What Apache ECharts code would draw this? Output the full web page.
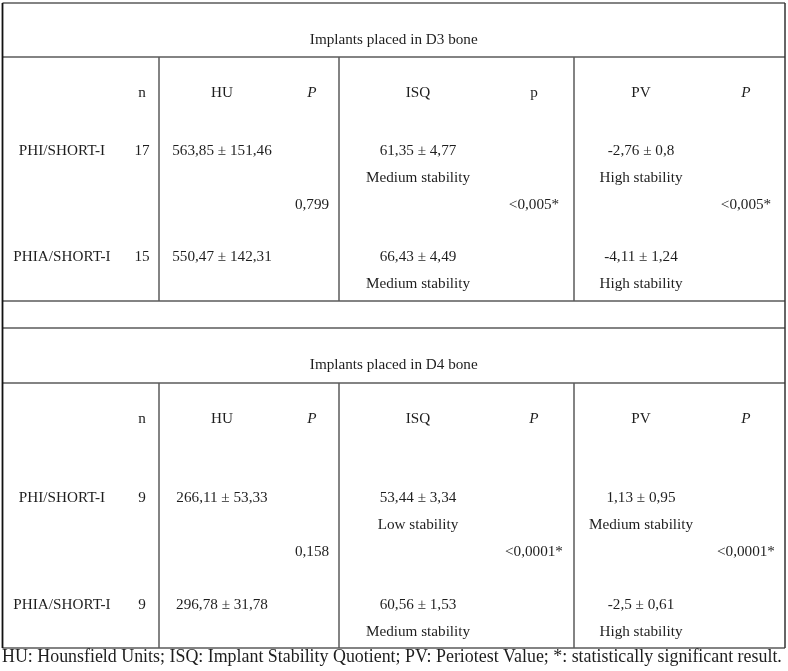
<!DOCTYPE html>
<html>
<head>
<meta charset="utf-8">
<script src="https://cdn.jsdelivr.net/npm/echarts@6/dist/echarts.min.js"></script>
<style>html,body{margin:0;padding:0;background:#fff;}#c{width:788px;height:671px;}</style>
</head>
<body>
<div id="c"></div>
<script>
// ---- data ----
const sectionTitles = ['Implants placed in D3 bone', 'Implants placed in D4 bone'];
const headerLabels = [
  ['n', 'HU', 'P', 'ISQ', 'p', 'PV', 'P'],
  ['n', 'HU', 'P', 'ISQ', 'P', 'PV', 'P']
];
const headerItalic = [
  [false, false, true, false, false, false, true],
  [false, false, true, false, true, false, true]
];
const groups = ['PHI/SHORT-I', 'PHIA/SHORT-I'];
const nValues = [[17, 15], [9, 9]];
const huValues = [['563,85 ± 151,46', '550,47 ± 142,31'], ['266,11 ± 53,33', '296,78 ± 31,78']];
const huP = ['0,799', '0,158'];
const isqValues = [['61,35 ± 4,77', '66,43 ± 4,49'], ['53,44 ± 3,34', '60,56 ± 1,53']];
const isqStability = [['Medium stability', 'Medium stability'], ['Low stability', 'Medium stability']];
const isqP = ['<0,005*', '<0,0001*'];
const pvValues = [['-2,76 ± 0,8', '-4,11 ± 1,24'], ['1,13 ± 0,95', '-2,5 ± 0,61']];
const pvStability = [['High stability', 'High stability'], ['Medium stability', 'High stability']];
const pvP = ['<0,005*', '<0,0001*'];
const footnote = 'HU: Hounsfield Units; ISQ: Implant Stability Quotient; PV: Periotest Value; *: statistically significant result.';

// ---- layout ----
const L = 2.5, R = 785, TOP = 3, BOTTOM = 648;
const colX = { label: 62, n: 142, hu: 222, huP: 312, isq: 418, isqP: 534, pv: 641, pvP: 746 };
const headerX = [colX.n, colX.hu, colX.huP, colX.isq, colX.isqP, colX.pv, colX.pvP];
const vLines = [159, 339, 574];
const secY = [
  { top: 3, title: 40, sep: 57, header: 93, r1: 151, r1b: 178, p: 205, r2: 257, r2b: 284, bottom: 301 },
  { top: 328, title: 365, sep: 383, header: 419, r1: 498, r1b: 525, p: 552, r2: 605, r2b: 632, bottom: 648 }
];
const SERIF = '"Liberation Serif", "Times New Roman", serif';
const TXT = '#1e1e1e', LINE = '#5a5a5a';

const els = [];
function text(t, x, y, italic, align, font) {
  els.push({
    type: 'text', silent: true,
    style: {
      text: String(t), x: x, y: y,
      font: font || ((italic ? 'italic ' : '') + '15.2px ' + SERIF),
      fill: TXT, textAlign: align || 'center', textVerticalAlign: 'middle'
    }
  });
}
function line(x1, y1, x2, y2, color, w) {
  els.push({ type: 'line', silent: true, shape: { x1, y1, x2, y2 }, style: { stroke: color || LINE, lineWidth: w || 1.5 } });
}

secY.forEach((s, si) => {
  line(L, s.top, R, s.top);
  line(L, s.sep, R, s.sep);
  line(L, s.bottom, R, s.bottom);
  vLines.forEach(x => line(x, s.sep, x, s.bottom));
  text(sectionTitles[si], (L + R) / 2, s.title);
  headerLabels[si].forEach((h, hi) => text(h, headerX[hi], s.header, headerItalic[si][hi]));
  const rowsY = [s.r1, s.r2], rowsYb = [s.r1b, s.r2b];
  groups.forEach((g, gi) => {
    text(g, colX.label, rowsY[gi]);
    text(nValues[si][gi], colX.n, rowsY[gi]);
    text(huValues[si][gi], colX.hu, rowsY[gi]);
    text(isqValues[si][gi], colX.isq, rowsY[gi]);
    text(isqStability[si][gi], colX.isq, rowsYb[gi]);
    text(pvValues[si][gi], colX.pv, rowsY[gi]);
    text(pvStability[si][gi], colX.pv, rowsYb[gi]);
  });
  text(huP[si], colX.huP, s.p);
  text(isqP[si], colX.isqP, s.p);
  text(pvP[si], colX.pvP, s.p);
});
line(L, TOP, L, BOTTOM, '#111', 1.8);
line(R, TOP, R, BOTTOM, '#333', 1.5);
text(footnote, 2, 657, false, 'left', '17.9px ' + SERIF);

const chart = echarts.init(document.getElementById('c'), null, { renderer: 'canvas' });
chart.setOption({ backgroundColor: '#fff', animation: false, graphic: { elements: els } });
</script>
</body>
</html>
